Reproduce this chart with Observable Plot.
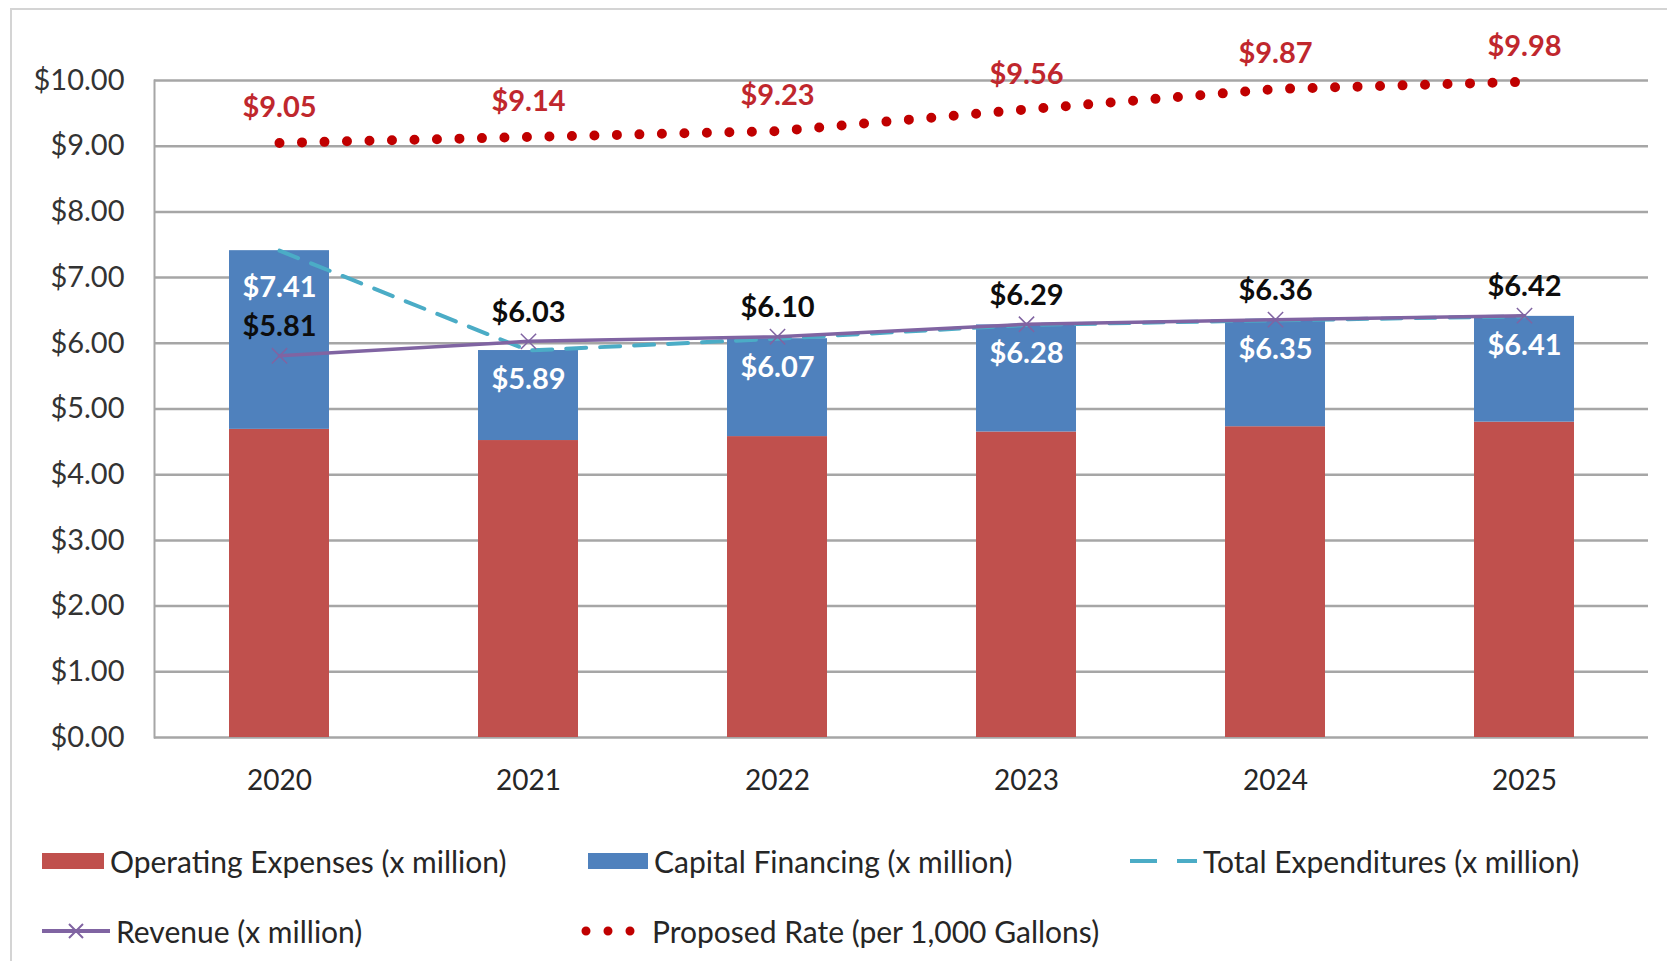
<!DOCTYPE html>
<html>
<head>
<meta charset="utf-8">
<script src="https://cdn.jsdelivr.net/npm/d3@7"></script>
<script src="https://cdn.jsdelivr.net/npm/@observablehq/plot@0.6"></script>
<style>
  html, body { margin: 0; padding: 0; background: #fff; }
  body { width: 1667px; height: 961px; position: relative; overflow: hidden; font-family: Lato, "Open Sans", sans-serif; }
  #frame { position: absolute; left: 10px; top: 8px; width: 1700px; height: 1000px; border-left: 2px solid #d4d4d4; border-top: 2px solid #d4d4d4; }
  #chart { position: absolute; left: 0; top: 0; }
  .leg { position: absolute; display: flex; align-items: center; font-size: 30px; color: #262626; white-space: nowrap; }
  .leg svg { margin-right: 6px; }
</style>
</head>
<body>
<div id="frame"></div>
<div id="chart"></div>
<div class="leg" style="left:42px; top:843px;"><svg width="62" height="20"><rect x="0" y="2" width="62" height="16" fill="#c0504d"/></svg>Operating Expenses (x million)</div>
<div class="leg" style="left:588px; top:843px;"><svg width="60" height="20"><rect x="0" y="2" width="60" height="16" fill="#4f81bd"/></svg>Capital Financing (x million)</div>
<div class="leg" style="left:1130px; top:843px;"><svg width="67" height="20"><line x1="0" y1="10" x2="67" y2="10" stroke="#4bacc6" stroke-width="4" stroke-dasharray="27 20"/></svg>Total Expenditures (x million)</div>
<div class="leg" style="left:42px; top:913px;"><svg width="68" height="20"><line x1="0" y1="10" x2="68" y2="10" stroke="#8064a2" stroke-width="4"/><path d="M27,3 L41,17 M41,3 L27,17" stroke="#8064a2" stroke-width="2"/></svg>Revenue (x million)</div>
<div class="leg" style="left:580px; top:913px;"><svg width="66" height="20"><line x1="6" y1="10" x2="62" y2="10" stroke="#c00000" stroke-width="9" stroke-linecap="round" stroke-dasharray="0 22"/></svg>Proposed Rate (per 1,000 Gallons)</div>
<script>
const years = ["2020", "2021", "2022", "2023", "2024", "2025"];
const operating = [4.69, 4.52, 4.58, 4.65, 4.73, 4.80];
const capital = [2.72, 1.37, 1.49, 1.63, 1.62, 1.61];
const totalExp = [7.41, 5.89, 6.07, 6.28, 6.35, 6.41];
const revenue = [5.81, 6.03, 6.10, 6.29, 6.36, 6.42];
const rate = [9.05, 9.14, 9.23, 9.56, 9.87, 9.98];
const yTicks = [0, 1, 2, 3, 4, 5, 6, 7, 8, 9, 10];

const stacked = [
  ...years.map((y, i) => ({year: y, series: "Operating Expenses", value: operating[i]})),
  ...years.map((y, i) => ({year: y, series: "Capital Financing", value: capital[i]}))
];
const rows = years.map((y, i) => ({year: y, total: totalExp[i], revenue: revenue[i], rate: rate[i]}));
const money = d => "$" + d.toFixed(2);

const chart = Plot.plot({
  width: 1667,
  height: 820,
  marginLeft: 154,
  marginRight: 19,
  marginTop: 80,
  marginBottom: 83,
  style: {fontFamily: "Lato, 'Open Sans', sans-serif", background: "transparent", overflow: "visible"},
  x: {domain: years, paddingInner: 0.6, paddingOuter: 0.3, label: null},
  y: {domain: [0, 10], label: null},
  color: {domain: ["Operating Expenses", "Capital Financing"], range: ["#c0504d", "#4f81bd"]},
  marks: [
    Plot.ruleY(yTicks, {stroke: "#a6a6a6", strokeWidth: 2.5}),
    Plot.frame({anchor: "left", stroke: "#a6a6a6", strokeWidth: 2}),
    Plot.barY(stacked, {x: "year", y: "value", fill: "series"}),
    Plot.line(rows, {x: "year", y: "total", stroke: "#4bacc6", strokeWidth: 4, strokeDasharray: "20 14"}),
    Plot.line(rows, {x: "year", y: "revenue", stroke: "#8064a2", strokeWidth: 3.5}),
    Plot.dot(rows, {x: "year", y: "revenue", symbol: "times", r: 7, stroke: "#8064a2", strokeWidth: 1.5}),
    Plot.line(rows, {x: "year", y: "rate", stroke: "#c00000", strokeWidth: 10, strokeLinecap: "round", strokeDasharray: "0 22.5"}),
    Plot.text(rows, {x: "year", y: "rate", text: d => money(d.rate), dy: -35, fill: "#c0272d", fontWeight: "bold", fontSize: 29}),
    Plot.text(rows, {x: "year", y: "revenue", text: d => money(d.revenue), dy: -29, fill: "#0d0d0d", fontWeight: "bold", fontSize: 29}),
    Plot.text(rows.slice(0, 1), {x: "year", y: "total", text: d => money(d.total), dy: 37, fill: "#ffffff", fontWeight: "bold", fontSize: 29}),
    Plot.text(rows.slice(1), {x: "year", y: "total", text: d => money(d.total), dy: 29, fill: "#ffffff", fontWeight: "bold", fontSize: 29}),
    Plot.axisY({ticks: yTicks, tickFormat: money, tickSize: 0, tickPadding: 30, fontSize: 29, color: "#333333", label: null}),
    Plot.axisX({tickSize: 0, tickPadding: 33, fontSize: 28, color: "#262626", label: null})
  ]
});
document.getElementById("chart").appendChild(chart);
</script>
</body>
</html>
